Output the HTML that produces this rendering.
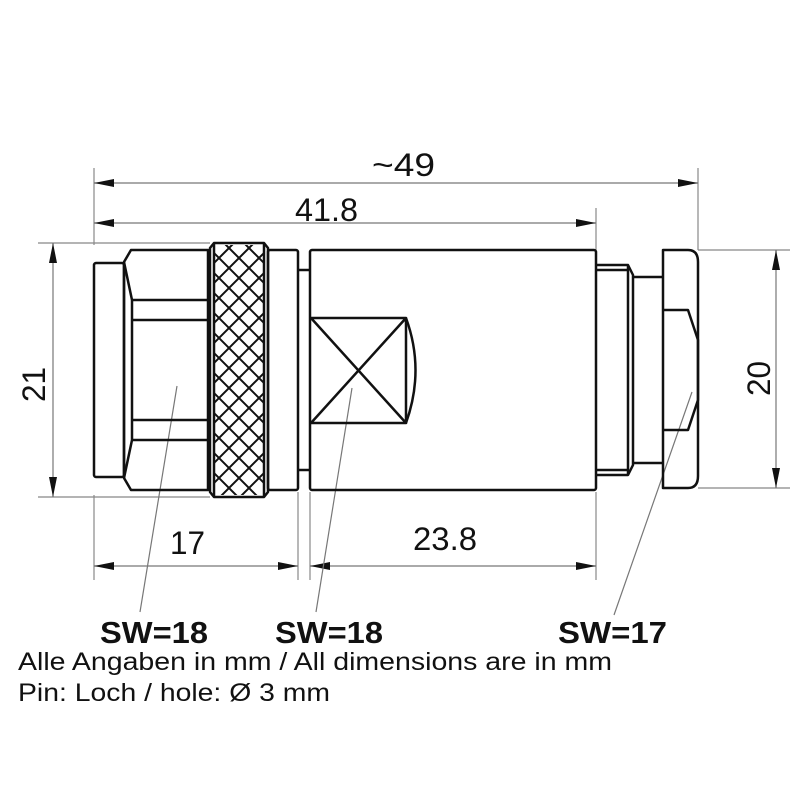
<!DOCTYPE html>
<html><head><style>
html,body{margin:0;padding:0;background:#fff;}
svg{display:block;}
text{font-family:"Liberation Sans",Arial,sans-serif;fill:#111;}
</style></head><body>
<svg width="800" height="800" viewBox="0 0 800 800" xmlns="http://www.w3.org/2000/svg">
<defs>
<marker id="a" viewBox="0 0 20 8" refX="20" refY="4" markerWidth="20" markerHeight="8" markerUnits="userSpaceOnUse" orient="auto-start-reverse"><path d="M0,0L20,4L0,8Z" fill="#111"/></marker>
<clipPath id="kc"><rect x="214" y="245" width="50" height="250"/></clipPath>
</defs>
<g stroke="#888" stroke-width="1.2" fill="none">
<line x1="94" y1="168" x2="94" y2="245"/>
<line x1="698" y1="168" x2="698" y2="250"/>
<line x1="596" y1="208" x2="596" y2="250"/>
<line x1="38" y1="243" x2="210" y2="243"/>
<line x1="38" y1="497" x2="210" y2="497"/>
<line x1="698" y1="250" x2="790" y2="250"/>
<line x1="698" y1="488" x2="790" y2="488"/>
<line x1="94" y1="495" x2="94" y2="580"/>
<line x1="298" y1="492" x2="298" y2="580"/>
<line x1="310" y1="492" x2="310" y2="580"/>
<line x1="596" y1="492" x2="596" y2="580"/>
</g>
<g stroke="#777" stroke-width="1.2" fill="none">
<line x1="94" y1="183" x2="698" y2="183" marker-start="url(#a)" marker-end="url(#a)"/>
<line x1="94" y1="223" x2="596" y2="223" marker-start="url(#a)" marker-end="url(#a)"/>
<line x1="53" y1="243" x2="53" y2="497" marker-start="url(#a)" marker-end="url(#a)"/>
<line x1="776" y1="250" x2="776" y2="488" marker-start="url(#a)" marker-end="url(#a)"/>
<line x1="94" y1="566" x2="298" y2="566" marker-start="url(#a)" marker-end="url(#a)"/>
<line x1="310" y1="566" x2="596" y2="566" marker-start="url(#a)" marker-end="url(#a)"/>
<line x1="177" y1="386" x2="140" y2="612"/>
<line x1="352" y1="388" x2="316" y2="612"/>
<line x1="692" y1="392" x2="614" y2="615"/>
</g>
<g font-size="32">
<text x="372" y="176" textLength="63" lengthAdjust="spacingAndGlyphs">~49</text>
<text x="295" y="221" textLength="63" lengthAdjust="spacingAndGlyphs">41.8</text>
<text x="170" y="554" textLength="35" lengthAdjust="spacingAndGlyphs">17</text>
<text x="413" y="550" textLength="64" lengthAdjust="spacingAndGlyphs">23.8</text>
<text transform="translate(45,402) rotate(-90)" textLength="35" lengthAdjust="spacingAndGlyphs">21</text>
<text transform="translate(770,396) rotate(-90)" textLength="35" lengthAdjust="spacingAndGlyphs">20</text>
</g>
<g stroke="#111" stroke-width="2.5" fill="none" stroke-linejoin="round">
<rect x="94" y="263" width="30" height="214" rx="2"/>
<path d="M131,250 L208,250 L208,490 L131,490 L124,478 L124,262 Z"/>
<path d="M124,262 L132,300 L132,440 L124,478"/>
<line x1="132" y1="300" x2="208" y2="300"/>
<line x1="132" y1="320" x2="208" y2="320"/>
<line x1="132" y1="420" x2="208" y2="420"/>
<line x1="132" y1="440" x2="208" y2="440"/>
<path d="M210,248 L214,243 L264,243 L268,248 L268,492 L264,497 L214,497 L210,492 Z"/>
<line x1="214" y1="243" x2="214" y2="497"/>
<line x1="264" y1="243" x2="264" y2="497"/>
<rect x="268" y="250" width="30" height="240" rx="2"/>
<line x1="298" y1="270" x2="310" y2="270"/>
<line x1="298" y1="470" x2="310" y2="470"/>
<rect x="310" y="250" width="286" height="240" rx="2"/>
<path d="M311,318 L406,318 L406,423 L311,423 M311,318 L406,423 M311,423 L406,318"/>
<path d="M406,318 Q425,370 406,423"/>
<path d="M596,265 L628,265 L633,275 L633,465 L628,475 L596,475"/>
<line x1="596" y1="270" x2="628" y2="270"/>
<line x1="596" y1="470" x2="628" y2="470"/>
<line x1="628" y1="265" x2="628" y2="475"/>
<line x1="633" y1="277" x2="663" y2="277"/>
<line x1="633" y1="463" x2="663" y2="463"/>
<path d="M663,250 L688,250 Q698,250 698,262 L698,476 Q698,488 688,488 L663,488 Z"/>
<path d="M663,310 L688,310 L698,340 L698,400 L688,430 L663,430"/>
</g>
<g clip-path="url(#kc)" stroke="#111" stroke-width="2">
<path d="M184,243 l100,100 M184,263 l100,100 M184,283 l100,100 M184,303 l100,100 M184,323 l100,100 M184,343 l100,100 M184,363 l100,100 M184,383 l100,100 M184,403 l100,100 M184,423 l100,100 M184,443 l100,100 M184,223 l100,100 M184,203 l100,100 M184,183 l100,100 M184,163 l100,100 M184,143 l100,100"/>
<path d="M294,243 l-100,100 M294,263 l-100,100 M294,283 l-100,100 M294,303 l-100,100 M294,323 l-100,100 M294,343 l-100,100 M294,363 l-100,100 M294,383 l-100,100 M294,403 l-100,100 M294,423 l-100,100 M294,443 l-100,100 M294,223 l-100,100 M294,203 l-100,100 M294,183 l-100,100 M294,163 l-100,100 M294,143 l-100,100"/>
</g>
<g font-size="31" font-weight="bold">
<text x="100" y="643" textLength="108" lengthAdjust="spacingAndGlyphs">SW=18</text>
<text x="275" y="643" textLength="108" lengthAdjust="spacingAndGlyphs">SW=18</text>
<text x="558" y="643" textLength="109" lengthAdjust="spacingAndGlyphs">SW=17</text>
</g>
<g font-size="25">
<text x="18" y="670" textLength="594" lengthAdjust="spacingAndGlyphs">Alle Angaben in mm / All dimensions are in mm</text>
<text x="18" y="701" textLength="312" lengthAdjust="spacingAndGlyphs">Pin: Loch / hole: Ø 3 mm</text>
</g>
</svg>
</body></html>
